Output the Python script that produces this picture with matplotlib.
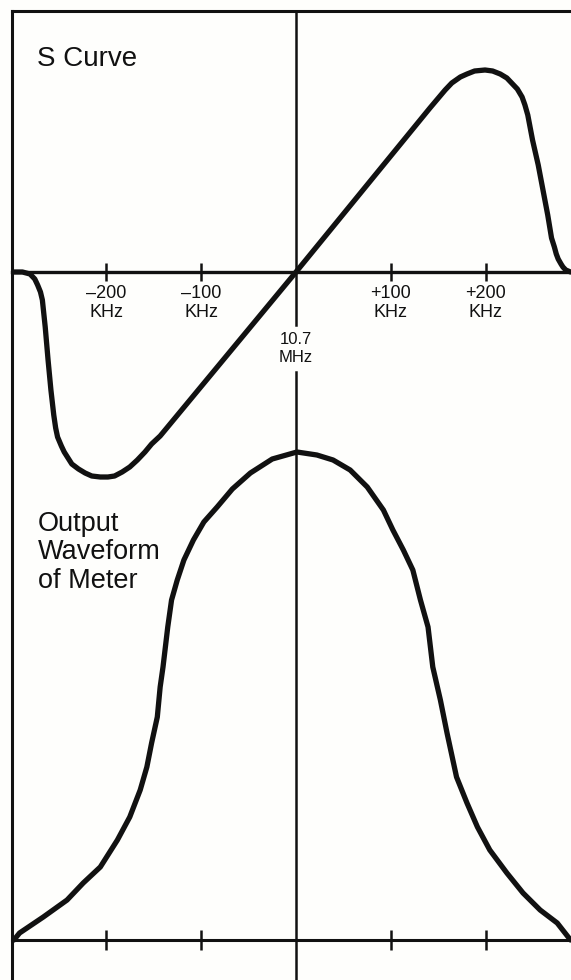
import numpy as np
import matplotlib.pyplot as plt

plt.rcParams['font.family'] = ['Liberation Sans', 'DejaVu Sans']

# || S curve of the FM discriminator (kHz off 10.7 MHz, relative amplitude)
s_khz = [-297, -288, -280, -275, -272, -269, -267, -264, -261, -258, -255,
         -253, -251, -247, -244, -240, -236, -229, -222, -215, -206, -198,
         -191, -183, -175, -167, -159, -152, -143, 0, 141, 157, 164, 173, 180,
         188, 199, 207, 215, 222, 227, 233, 238, 241, 244, 249, 255, 260, 265,
         269, 272, 274, 276, 279, 281, 284, 289]
s_amp = [0, 0, -2, -7, -13, -20, -28, -55, -88, -118, -143,
         -156, -165, -174, -180, -186, -192, -197, -201, -204, -205, -205,
         -204, -200, -195, -188, -180, -172, -164, 0, 164, 182, 189, 195, 198,
         201, 202, 201, 198, 194, 189, 183, 175, 167, 157, 132, 107, 82, 57,
         34, 25, 18, 13, 8, 5, 2, 0]

# || Output waveform of the tuning meter
m_khz = [-297, -291, -266, -241, -224, -206, -188, -175, -164, -157, -152,
         -146, -143, -140, -135, -131, -125, -118, -108, -97, -83, -67, -48,
         -25, 1, 22, 39, 57, 75, 92, 102, 113, 123, 131, 139, 144, 152, 159,
         169, 180, 191, 204, 222, 239, 257, 275, 289]
m_amp = [0, 7, 23, 40, 57, 73, 100, 123, 150, 173, 197,
         223, 253, 273, 313, 340, 360, 380, 400, 418, 433, 451, 467,
         481, 488, 485, 480, 470, 453, 430, 410, 390, 370, 340, 313, 273, 240,
         207, 163, 137, 113, 90, 67, 47, 30, 17, 0]

tick_khz = [-200, -100, 100, 200]
tick_labels = ['\u2013200\nKHz', '\u2013100\nKHz', '+100\nKHz', '+200\nKHz']

INK = '#111111'
PAPER = '#fefefc'


def draw():
    fig = plt.figure(figsize=(5.71, 9.80), dpi=100, facecolor=PAPER)

    # both panels share one frequency scale, each with its own baseline
    ax_s = fig.add_axes([0, 0, 1, 1])
    ax_s.set_xlim(-311.6, 289.5)
    ax_s.set_ylim(-708, 272)
    ax_s.set_facecolor(PAPER)
    ax_s.axis('off')

    ax_m = ax_s.twinx()
    ax_m.set_ylim(-40, 940)
    ax_m.axis('off')

    # || frame: top border, left border, centre line (broken for the label)
    top = 1 - 11 / 980
    ax_s.axhline(272 - 11, xmin=(12 / 571), xmax=1, color=INK, lw=2.2)
    ax_s.axvline(-299, ymin=0, ymax=top, color=INK, lw=2.2)
    ax_s.axvline(0, ymin=1 - 325 / 980, ymax=top, color=INK, lw=1.8)
    ax_s.axvline(0, ymin=0, ymax=1 - 372 / 980, color=INK, lw=1.8)

    # || baselines with tick marks
    ax_s.axhline(0, xmin=(12 / 571), xmax=1, color=INK, lw=2.4)
    ax_m.axhline(0, xmin=(12 / 571), xmax=1, color=INK, lw=2.2)
    ax_s.plot(tick_khz, np.zeros(len(tick_khz)), ls='none', marker='|',
              ms=13, mew=1.8, color=INK)
    ax_m.plot(tick_khz, np.zeros(len(tick_khz)), ls='none', marker='|',
              ms=14, mew=1.8, color=INK)

    # || curves
    ax_s.plot(s_khz, s_amp, color=INK, lw=3.8, solid_joinstyle='round',
              solid_capstyle='round')
    ax_m.plot(m_khz, m_amp, color=INK, lw=3.8, solid_joinstyle='round',
              solid_capstyle='round')

    # || labels
    for k, lab in zip(tick_khz, tick_labels):
        ax_s.text(k, -13, lab, ha='center', va='top', fontsize=13,
                  linespacing=1.15, color=INK)
    ax_s.text(0, -60, '10.7\nMHz', ha='center', va='top', fontsize=12,
              linespacing=1.25, color=INK)

    ax_s.text(-273, 226, 'S Curve', ha='left', va='top', fontsize=20,
              color=INK)
    ax_m.text(-272, 429, 'Output\nWaveform\nof Meter', ha='left', va='top',
              fontsize=19.5, linespacing=1.12, color=INK)

    fig.savefig('out.png', dpi=100, facecolor=PAPER)


if __name__ == "__main__":
    draw()
